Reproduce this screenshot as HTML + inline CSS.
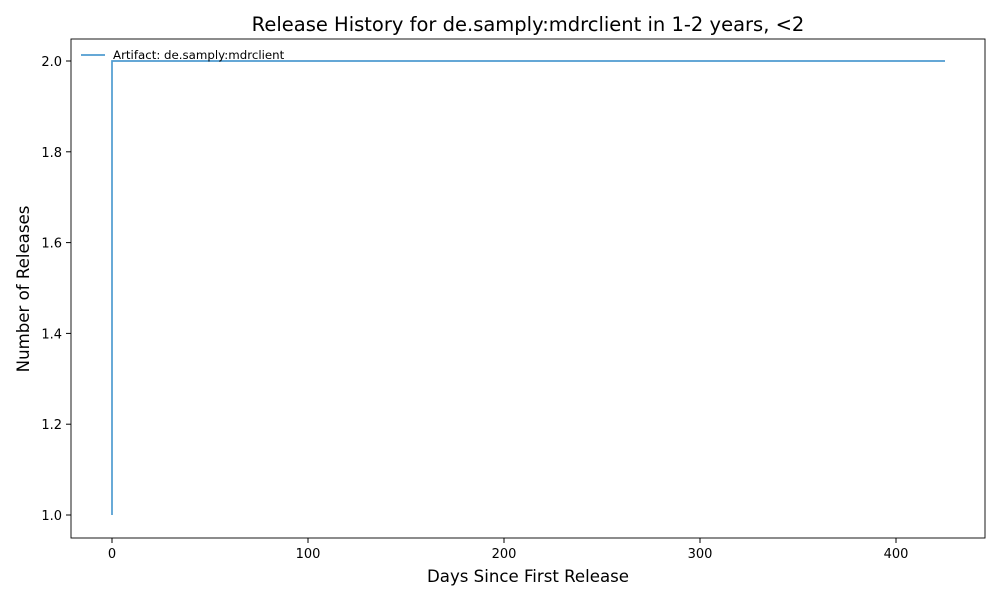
<!DOCTYPE html>
<html><head><meta charset="utf-8"><style>
body{margin:0;background:#fff;font-family:"DejaVu Sans","Liberation Sans",sans-serif;}
</style></head><body>
<svg id="chart" width="1000" height="600" xmlns="http://www.w3.org/2000/svg">
<rect width="1000" height="600" fill="#fff"/>
<text x="528" y="31" font-size="19.5" text-anchor="middle">Release History for de.samply:mdrclient in 1-2 years, &lt;2</text>
<g id="ticks"></g>
<path id="series" fill="none" stroke="#4f9bd0" stroke-width="1.7"/>
<rect x="71" y="39" width="914" height="499" fill="none" stroke="#000" stroke-width="0.9"/>
<text x="528" y="582" font-size="16.6" text-anchor="middle">Days Since First Release</text>
<text transform="translate(29,289) rotate(-90)" font-size="16.6" text-anchor="middle">Number of Releases</text>
<g>
<line x1="81" y1="55" x2="105" y2="55" stroke="#4f9bd0" stroke-width="1.7"/>
<text x="113" y="59" font-size="11.8">Artifact: de.samply:mdrclient</text>
</g>
</svg>
<script>
const days=[0,0,425];
const releases=[1,2,2];
const xTicks=[0,100,200,300,400];
const yTicks=[1.0,1.2,1.4,1.6,1.8,2.0];
const X=d=>112+d*1.96, Y=v=>515-(v-1)*454;
const ns="http://www.w3.org/2000/svg";
const g=document.getElementById('ticks');
function add(tag,attrs,txt){const e=document.createElementNS(ns,tag);for(const k in attrs)e.setAttribute(k,attrs[k]);if(txt!==undefined)e.textContent=txt;g.appendChild(e);return e;}
xTicks.forEach(t=>{
const l=add('line',{x1:X(t),x2:X(t),y1:538,y2:543,stroke:'#000'});


const s=add('text',{x:X(t),y:558,'font-size':13,'text-anchor':'middle'},String(t));


});
yTicks.forEach(t=>{
const l=add('line',{x1:66,x2:71,y1:Y(t),y2:Y(t),stroke:'#000'});


const s=add('text',{x:62,y:Y(t)+5,'font-size':13,'text-anchor':'end'},t.toFixed(1));


});
document.getElementById('series').setAttribute('d',days.map((d,i)=>(i?'L':'M')+X(d)+','+Y(releases[i])).join(''));
</script>
</body></html>
